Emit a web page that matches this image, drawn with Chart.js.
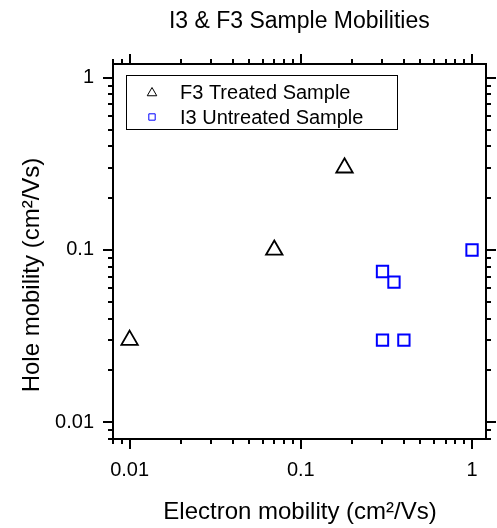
<!DOCTYPE html>
<html>
<head>
<meta charset="utf-8">
<title>I3 &amp; F3 Sample Mobilities</title>
<script src="https://cdn.jsdelivr.net/npm/chart.js@4.4.0/dist/chart.umd.min.js"></script>
<style>
    html, body { margin: 0; padding: 0; background: #fff; }
    #wrap { width: 497px; height: 528px; }
</style>
</head>
<body>
<div id="wrap"><canvas id="mobilityChart" width="497" height="528"></canvas></div>
<script>
// Mobility values (cm^2/Vs)
const f3Electron = [0.01, 0.07, 0.18];
const f3Hole = [0.03, 0.1, 0.3];
const i3Electron = [0.3, 0.35, 0.3, 0.4, 1.0];
const i3Hole = [0.075, 0.065, 0.03, 0.03, 0.1];

// Log axes: labelled decades plus the minor ticks in between
const majorTicks = [0.01, 0.1, 1];
const tickLabels = ['0.01', '0.1', '1'];
const minorTicks = [0.008, 0.009, 0.02, 0.03, 0.04, 0.05, 0.06, 0.07, 0.08, 0.09,
    0.2, 0.3, 0.4, 0.5, 0.6, 0.7, 0.8, 0.9];
const axisMin = 0.008;
const axisMax = 1.2;

const FONT = "'Liberation Sans', Arial, sans-serif";

const toPoints = (xs, ys) => xs.map((x, i) => ({ x: x, y: ys[i] }));

// Frame, outward ticks on all four sides, legend box and axis titles
const framePlugin = {
    id: 'frameAndTicks',
    afterDraw(chart) {
        const ctx = chart.ctx;
        const area = chart.chartArea;
        const xs = chart.scales.x;
        const ys = chart.scales.y;
        const left = Math.round(area.left), right = Math.round(area.right);
        const top = Math.round(area.top), bottom = Math.round(area.bottom);

        ctx.save();
        ctx.strokeStyle = '#000';
        ctx.lineWidth = 2;
        ctx.strokeRect(left, top, right - left, bottom - top);

        const drawTicks = (values, len) => {
            ctx.beginPath();
            values.forEach(v => {
                const px = Math.round(xs.getPixelForValue(v));
                if (px >= left && px <= right) {
                    ctx.moveTo(px, bottom); ctx.lineTo(px, bottom + len);
                    ctx.moveTo(px, top); ctx.lineTo(px, top - len);
                }
                const py = Math.round(ys.getPixelForValue(v));
                if (py >= top && py <= bottom) {
                    ctx.moveTo(left, py); ctx.lineTo(left - len, py);
                    ctx.moveTo(right, py); ctx.lineTo(right + len, py);
                }
            });
            ctx.stroke();
        };
        drawTicks(majorTicks, 10);
        drawTicks(minorTicks, 5);

        // legend
        ctx.lineWidth = 1;
        ctx.strokeRect(126.5, 75.5, 271, 54);
        ctx.font = '20px ' + FONT;
        ctx.textBaseline = 'alphabetic';
        ctx.textAlign = 'left';
        ctx.fillStyle = '#000';
        chart.data.datasets.forEach((ds, i) => {
            const y = 92 + i * 25;
            ctx.save();
            ctx.strokeStyle = ds.borderColor;
            ctx.fillStyle = 'rgba(0,0,0,0)';
            Chart.helpers.drawPoint(ctx, {
                pointStyle: ds.pointStyle,
                radius: ds.pointStyle === 'triangle' ? 5.5 : 4.5,
                rotation: 0,
                borderWidth: 1.2
            }, 152, y + (ds.pointStyle === 'triangle' ? 1 : 0));
            ctx.restore();
            ctx.fillText(ds.label, 180, y + 7);
        });

        // axis titles
        ctx.font = '24px ' + FONT;
        ctx.textAlign = 'center';
        ctx.fillText('Electron mobility (cm\u00B2/Vs)', 300, 519);
        ctx.translate(39, 275);
        ctx.rotate(-Math.PI / 2);
        ctx.fillText('Hole mobility (cm\u00B2/Vs)', 0, 0);
        ctx.restore();
    }
};

const logAxis = (size) => ({
    type: 'logarithmic',
    min: axisMin,
    max: axisMax,
    afterBuildTicks: axis => { axis.ticks = majorTicks.map(v => ({ value: v })); },
    grid: { display: false, drawTicks: false },
    border: { display: false },
    ticks: {
        autoSkip: false,
        maxRotation: 0,
        color: '#000',
        font: { family: FONT, size: 20 },
        padding: 19,
        callback: v => {
            const i = majorTicks.indexOf(v);
            return i >= 0 ? tickLabels[i] : '';
        }
    },
    afterFit: size
});

new Chart(document.getElementById('mobilityChart'), {
    type: 'scatter',
    data: {
        datasets: [{
            label: 'F3 Treated Sample',
            data: toPoints(f3Electron, f3Hole),
            pointStyle: 'triangle',
            pointRadius: 9.5,
            borderWidth: 1.8,
            borderColor: '#000000',
            backgroundColor: 'rgba(0,0,0,0)'
        }, {
            label: 'I3 Untreated Sample',
            data: toPoints(i3Electron, i3Hole),
            pointStyle: 'rect',
            pointRadius: 8,
            borderWidth: 2,
            borderColor: '#0000ff',
            backgroundColor: 'rgba(0,0,0,0)'
        }]
    },
    options: {
        responsive: false,
        animation: false,
        layout: { padding: { left: 0, right: 10, top: 0, bottom: 0 } },
        plugins: {
            legend: { display: false },
            tooltip: { enabled: false },
            title: {
                display: true,
                fullSize: false,
                text: 'I3 & F3 Sample Mobilities',
                color: '#000',
                font: { family: FONT, size: 23, weight: 'normal' },
                padding: { top: 8, bottom: 28.4 }
            }
        },
        scales: {
            x: { ...logAxis(axis => { axis.height = 89; }), position: 'bottom' },
            y: { ...logAxis(axis => { axis.width = 113; }), position: 'left' }
        }
    },
    plugins: [framePlugin]
});
</script>
</body>
</html>
